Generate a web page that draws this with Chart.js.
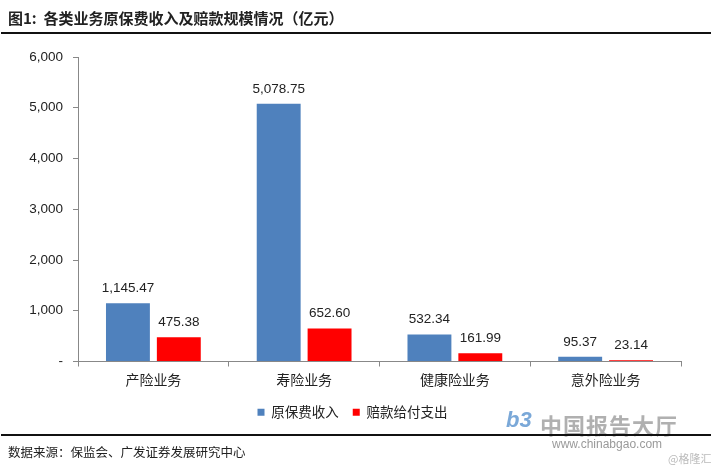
<!DOCTYPE html>
<html><head><meta charset="utf-8">
<script src="https://cdn.jsdelivr.net/npm/chart.js@4"></script>
<style>
html,body{margin:0;padding:0;background:#fff;width:714px;height:466px;overflow:hidden;font-family:"Liberation Sans",Arial,sans-serif}
#wrap{position:absolute;left:0;top:0;width:714px;height:466px}
#title{position:absolute;left:8px;top:7px;font:bold 15px "Noto Sans CJK SC",sans-serif;color:#222;white-space:nowrap}
.line{position:absolute;left:1px;width:710px;height:2px;background:#111}
#src{position:absolute;left:8px;top:442px;font:12.5px "Noto Sans CJK SC",sans-serif;color:#222;white-space:nowrap}
#wm1{position:absolute;left:540px;top:408px;font:bold 22px "Noto Sans CJK SC",sans-serif;color:#b0b0b0;white-space:nowrap;letter-spacing:1px}
#wm2{position:absolute;left:552px;top:437px;font:12px "Liberation Sans",Arial,sans-serif;color:#9a9a9a}
#wm3{position:absolute;left:668px;top:450px;font:11px "Noto Sans CJK SC",sans-serif;color:#bbb}
#wm0{position:absolute;left:506px;top:407px;font:italic bold 22px "Liberation Sans",sans-serif;color:#7aa8d8}
canvas{position:absolute;left:0;top:0}
</style></head>
<body><div id="wrap">
<canvas id="c" width="714" height="466"></canvas>
<div id="title">图1:&nbsp; 各类业务原保费收入及赔款规模情况（亿元）</div>
<div class="line" style="top:32px"></div>
<div id="wm0">b3</div>
<div id="wm1">中国报告大厅</div>
<div id="wm2">www.chinabgao.com</div>
<div class="line" style="top:434px"></div>
<div id="src">数据来源：保监会、广发证券发展研究中心</div>
<div id="wm3">@格隆汇</div>
</div>
<script>
const categories = ["产险业务","寿险业务","健康险业务","意外险业务"];
const premiumIncome = [1145.47, 5078.75, 532.34, 95.37];
const claimsPaid = [475.38, 652.60, 161.99, 23.14];
const seriesNames = ["原保费收入","赔款给付支出"];
const yTicks = [0,1000,2000,3000,4000,5000,6000];

const fmt = v => v.toLocaleString('en-US',{minimumFractionDigits:2,maximumFractionDigits:2});
const labelPlugin = {
  id:'vals',
  afterDatasetsDraw(chart){
    const ctx = chart.ctx;
    ctx.save();
    ctx.font = '13.5px "Liberation Sans", Arial, sans-serif';
    ctx.fillStyle = '#222';
    ctx.textAlign = 'center';
    ctx.textBaseline = 'bottom';
    chart.data.datasets.forEach((ds,i)=>{
      chart.getDatasetMeta(i).data.forEach((bar,j)=>{
        ctx.fillText(fmt(ds.data[j]), bar.x, bar.y - 8);
      });
    });
    ctx.restore();
  }
};

new Chart(document.getElementById('c'),{
  type:'bar',
  data:{
    labels:categories,
    datasets:[
      {label:seriesNames[0],data:premiumIncome,backgroundColor:'#4F81BD'},
      {label:seriesNames[1],data:claimsPaid,backgroundColor:'#FF0000'}
    ]
  },
  options:{
    responsive:false,animation:false,
    layout:{padding:{left:24,right:33,top:57,bottom:37}},
    categoryPercentage:0.675,barPercentage:0.863,
    plugins:{
      legend:{position:'bottom',labels:{boxWidth:7,boxHeight:7,padding:14,color:'#222',font:{size:13.5,family:'"Noto Sans CJK SC", sans-serif'}}},
      tooltip:{enabled:false}
    },
    scales:{
      x:{
        grid:{display:true,drawOnChartArea:false,drawTicks:true,tickLength:5,color:'#888',offset:true},
        border:{display:true,color:'#888',width:1},
        ticks:{color:'#222',padding:5,font:{size:14,family:'"Noto Sans CJK SC", sans-serif'}},
        afterFit(s){s.height=30;}
      },
      y:{
        min:0,max:6000,
        afterBuildTicks(s){s.ticks=yTicks.map(v=>({value:v}));},
        grid:{display:true,drawOnChartArea:false,drawTicks:true,tickLength:5,color:'#888'},
        border:{display:true,color:'#888',width:1},
        ticks:{color:'#222',padding:10,font:{size:13.5,family:'"Liberation Sans", Arial, sans-serif'},
          callback:v=> v===0?'-':v.toLocaleString('en-US')},
        afterFit(s){s.width=54;}
      }
    }
  },
  plugins:[labelPlugin]
});
</script>
</body></html>
